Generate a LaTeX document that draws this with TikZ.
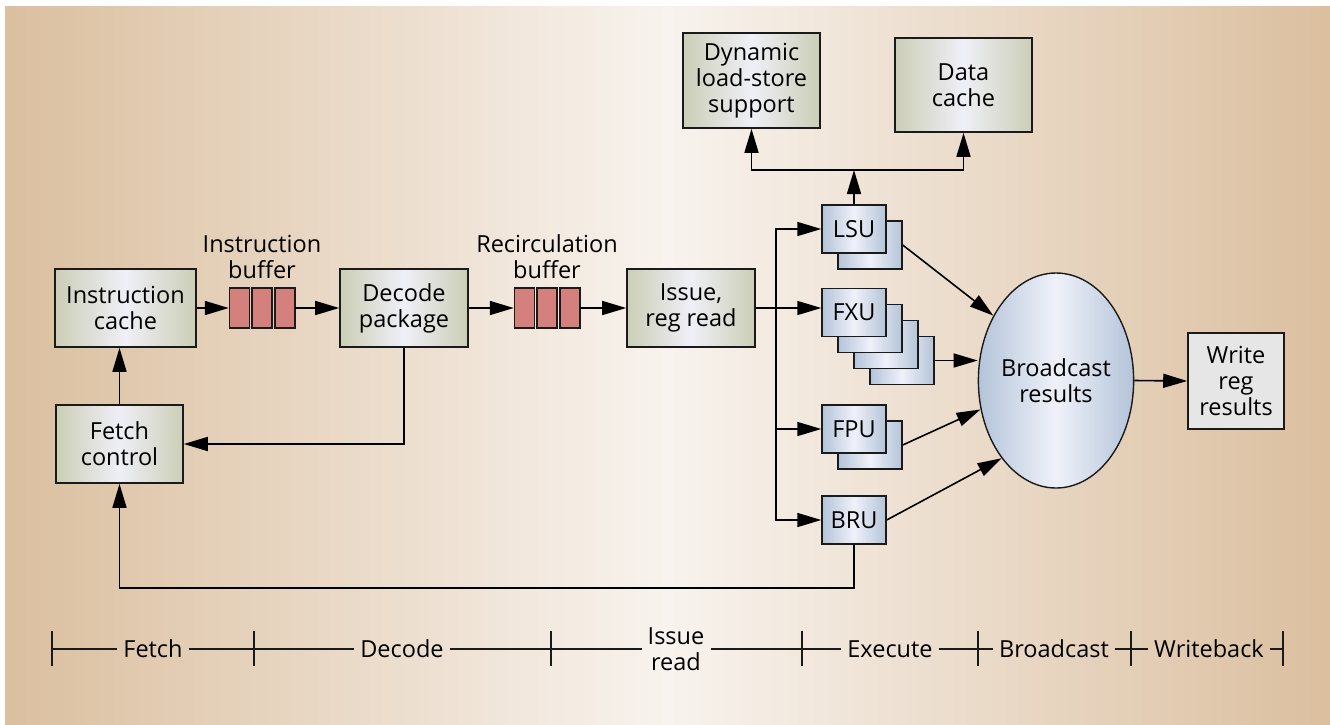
\documentclass[tikz,border=0pt]{standalone}
\usepackage{fontspec}
\setmainfont{Open Sans}
\usetikzlibrary{positioning, arrows.meta, shapes.geometric}
\definecolor{bgtan}{HTML}{DBBF9F}
\definecolor{bglight}{HTML}{F8F3EE}
\definecolor{boxgreen}{HTML}{CBCEB6}
\definecolor{boxlight}{HTML}{EFEFF7}
\definecolor{unitblue}{HTML}{B4C4D9}
\definecolor{unitlight}{HTML}{EFF1F9}
\definecolor{bufred}{HTML}{D4817D}
\definecolor{wbgray}{HTML}{E6E6E6}
\definecolor{linegray}{HTML}{1A1A1A}

\begin{document}
\begin{tikzpicture}[
    x=1pt, y=-1pt,
    font=\fontsize{23.5}{26}\selectfont,
    block/.style={rectangle, draw=linegray, line width=1.6pt,
                  left color=boxgreen, right color=boxgreen, middle color=boxlight,
                  minimum width=128pt, minimum height=78pt,
                  align=center, inner sep=0pt},
    unit/.style={rectangle, draw=linegray, line width=1.4pt,
                 left color=unitblue, right color=unitblue, middle color=unitlight,
                 minimum width=64pt, minimum height=48pt, inner sep=0pt},
    slot/.style={rectangle, draw=linegray, line width=1.4pt, fill=bufred,
                 minimum width=20pt, minimum height=40pt, inner sep=0pt},
    lbl/.style={align=center, inner sep=0pt},
    phase/.style={align=center, inner sep=6pt},
    arrow/.style={-{Triangle[length=24pt,width=14pt]}, line width=1.6pt, black},
    wire/.style={line width=1.4pt, linegray},
  ]
  \useasboundingbox (0,0) rectangle (1330,724);
  \fill[white] (0,0) rectangle (1330,724);
  \shade[left color=bgtan, right color=bgtan, middle color=bglight] (5,6) rectangle (1330,724);

  % front end
  \node[block, minimum width=141pt] (icache) at (125.5,308) {Instruction\\cache};
  \node[block, minimum width=127pt] (fetch) at (119.5,444) {Fetch\\control};
  \node[block] (decode) at (404,308) {Decode\\package};
  \node[block] (issue) at (691,308) {Issue,\\reg read};

  \node[minimum width=66pt, minimum height=40pt, inner sep=0pt] (ibuf) at (262,308) {};
  \node[minimum width=66pt, minimum height=40pt, inner sep=0pt] (rbuf) at (547,308) {};
  \foreach \buf in {ibuf, rbuf}
    \foreach \dx in {-22.8, 0, 22.8}
      \node[slot, xshift=\dx pt] at (\buf) {};
  \node[lbl, above=9pt of ibuf] (ibuflbl) {Instruction\\buffer};
  \node[lbl, above=9pt of rbuf] (rbuflbl) {Recirculation\\buffer};

  % memory side
  \node[block, minimum width=137pt, minimum height=95pt] (dyn) at (751.5,80.5) {Dynamic\\load-store\\support};
  \node[block, minimum width=137pt, minimum height=94pt] (dcache) at (963.5,85) {Data\\cache};

  % execution units
  \node[unit] (lsub) at (870,245) {};
  \node[unit] (lsu) at (854,229) {LSU};
  \node[unit] (fxu4) at (902,360.5) {};
  \node[unit] (fxu3) at (886,344.5) {};
  \node[unit] (fxu2) at (870,328.5) {};
  \node[unit] (fxu) at (854,312.5) {FXU};
  \node[unit] (fpub) at (870,445) {};
  \node[unit] (fpu) at (854,429) {FPU};
  \node[unit] (bru) at (854,520) {BRU};

  \node[ellipse, draw=linegray, line width=1.4pt,
        left color=unitblue, right color=unitblue, middle color=unitlight,
        minimum width=122pt, minimum height=215pt, inner sep=0pt, align=center]
        (bcast) at (1056,380.5) {Broadcast\\results};
  \node[rectangle, draw=linegray, line width=1.6pt, fill=wbgray,
        minimum width=96pt, minimum height=96pt, inner sep=0pt, align=center]
        (write) at (1236,381) {Write\\reg\\results};

  % connectors
  \draw[arrow] (icache) -- (ibuf);
  \draw[arrow] (ibuf) -- (decode);
  \draw[arrow] (decode) -- (rbuf);
  \draw[arrow] (rbuf) -- (issue);
  \draw[arrow] (fetch.north) -- (fetch.north |- icache.south);
  \draw[arrow] (decode.south) |- (fetch.east);
  \draw[arrow] (bru.south) -- ++(0,43) -| (fetch.south);

  \coordinate (fork) at (776,308);
  \draw[arrow] (issue.east) -- (issue.east -| fxu.west);
  \draw[arrow] (fork) |- (lsu.west);
  \draw[arrow] (fork) |- (fpu.west);
  \draw[arrow] (fork) |- (bru.west);

  \coordinate (memsplit) at (854,170);
  \draw[arrow] (lsu.north) -- (memsplit);
  \draw[arrow] (memsplit) -| (dyn.south);
  \draw[arrow] (memsplit) -| (dcache.south);

  \draw[arrow] (lsub.east) -- (bcast.134);
  \draw[arrow] (fxu4.east) -- (fxu4.east -| bcast.west);
  \draw[arrow] (fpub.east) -- (bcast.201);
  \draw[arrow] (bru.east) -- (bcast.235);
  \draw[arrow] (bcast.east) -- (write.west);

  % pipeline stages
  \foreach \x [count=\i] in {52,254,551,802,978,1131,1283} {
    \coordinate (t\i) at (\x,649);
    \draw[wire, line width=1.3pt] (\x,631) -- (\x,666);
  }
  \node[phase] (pfetch) at (153,649) {Fetch};
  \node[phase] (pdecode) at (402,649) {Decode};
  \node[phase] (pissue) at (676,649) {Issue\\read};
  \node[phase] (pexec) at (890,649) {Execute};
  \node[phase] (pbcast) at (1054,649) {Broadcast};
  \node[phase] (pwb) at (1209,649) {Writeback};
  \foreach \a/\p/\b in {t1/pfetch/t2, t2/pdecode/t3, t3/pissue/t4,
                        t4/pexec/t5, t5/pbcast/t6, t6/pwb/t7}
    \draw[wire] (\a) -- (\p) -- (\b);
\end{tikzpicture}
\end{document}
